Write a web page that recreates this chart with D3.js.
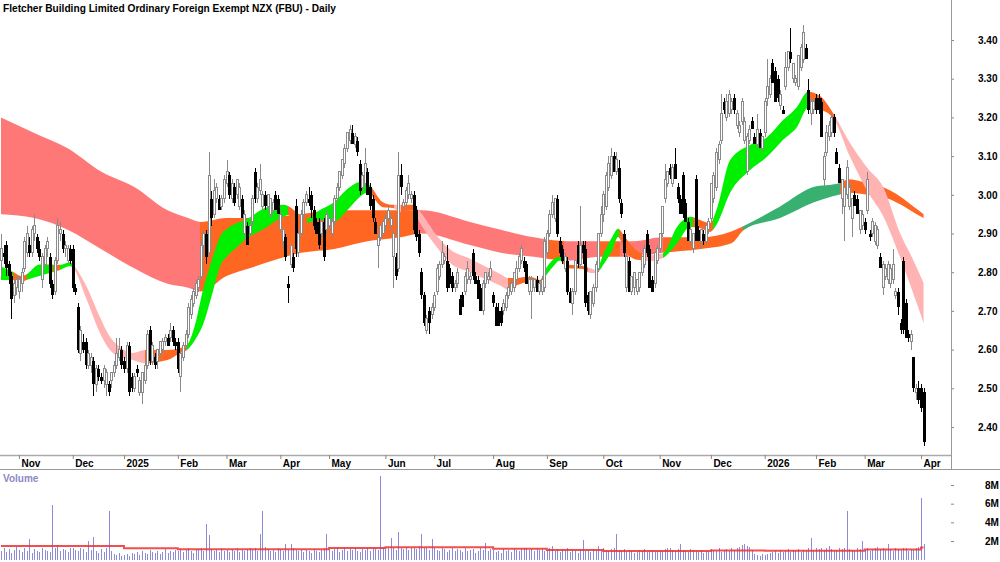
<!DOCTYPE html>
<html>
<head>
<meta charset="utf-8">
<script src="https://cdn.jsdelivr.net/npm/d3@7"></script>
<style>
  body { margin: 0; background: #fff; }
  svg { display: block; font-family: "Liberation Sans", Arial, sans-serif; font-weight: bold; }
</style>
</head>
<body>
<svg id="chart" width="1000" height="562"></svg>
<script>
// ---------------------------//
//       DATA                 //
// ---------------------------//

// NZX closed days in the window
var holidays = ["2024-10-28", "2024-12-25", "2024-12-26", "2025-01-01", "2025-01-02", "2025-02-06",
    "2025-04-18", "2025-04-21", "2025-04-25", "2025-06-02", "2025-06-20", "2025-10-27",
    "2025-12-25", "2025-12-26", "2026-01-01", "2026-01-02", "2026-02-06"];

// daily candles, cents : open, high, low, close
var candles = [
    // Oct 2024
    [283,290,279,286],[285,287,282,284],[287,288,279,281],[282,283,277,279],[279,280,268,273],[274,278,272,277],[276,279,274,278],
    // Nov
    [275,279,273,278],[277,281,275,280],[281,289,280,288],[285,292,284,290],[287,289,284,285],[285,292,284,291],[290,295,288,292],
    [289,290,285,286],[286,288,283,284],[278,285,276,284],[282,287,281,286],[286,289,284,288],[284,285,276,277],[277,278,273,274],
    [275,284,274,283],[283,294,282,292],[290,293,288,291],[290,291,285,286],[286,288,284,287],[283,287,282,286],[286,287,282,283],
    // Dec
    [286,287,275,276],[276,277,274,275],[271,272,259,260],[259,266,257,265],[262,264,259,260],[262,263,255,256],[256,260,255,259],
    [256,259,254,258],[257,258,248,251],[251,256,249,255],[255,256,252,253],[253,254,251,252],[252,256,250,255],[251,255,248,254],
    [251,252,248,249],[252,254,250,254],[254,257,253,256],[256,263,255,259],[258,263,257,260],[260,261,255,256],
    // Jan 2025
    [257,258,254,255],[255,262,254,261],[261,262,248,249],[253,254,249,250],[250,254,249,253],[255,256,253,254],[249,253,248,252],
    [249,254,246,254],[252,257,251,256],[256,265,255,264],[265,266,256,257],[257,262,256,261],[258,259,255,256],[257,260,255,260],
    [259,262,258,262],[260,263,259,262],[262,264,261,263],[263,264,261,261],[263,267,262,265],[265,266,261,262],[262,263,260,261],
    // Feb
    [262,263,254,255],[253,260,249,259],[258,262,257,261],[261,265,260,264],[264,272,263,271],[269,274,268,273],[272,276,271,275],
    [274,278,273,277],[276,279,275,278],[279,288,278,287],[287,291,284,290],[290,291,282,284],[285,311,284,305],[299,301,292,294],
    [295,304,294,301],[299,303,298,302],[299,300,296,296],[297,300,296,299],[299,305,298,304],
    // Mar
    [303,309,302,306],[305,306,299,300],[299,304,298,303],[302,303,297,298],[300,304,299,304],[297,303,296,302],[299,300,294,294],
    [290,296,288,295],[292,293,287,287],[290,293,289,292],[293,300,292,299],[306,307,298,299],[299,303,298,302],[301,308,300,304],
    [297,301,296,300],[300,301,296,297],[297,300,296,300],[295,299,294,299],[296,299,295,298],[300,301,296,296],[299,300,295,295],
    // Apr
    [291,296,290,295],[288,291,286,291],[289,290,283,284],[277,279,272,276],[282,287,281,287],[284,285,280,281],[297,299,284,286],
    [285,291,284,290],[290,296,289,295],[295,299,294,298],[298,301,297,300],[299,302,297,298],[300,301,294,296],[296,297,291,292],
    [293,294,290,290],[293,294,286,287],[290,294,289,293],[293,294,283,284],[291,296,290,295],
    // May
    [292,295,291,294],[290,294,289,293],[293,300,292,299],[299,303,298,302],[302,306,301,306],[305,309,304,309],[308,313,307,312],
    [312,316,311,316],[314,318,313,317],[316,318,313,313],[313,316,312,315],[314,315,310,311],[308,309,300,301],[302,306,301,305],
    [303,312,302,308],[306,307,300,300],[302,303,296,297],[299,300,293,294],[293,294,290,290],[287,290,281,289],[289,292,288,292],
    [290,293,289,293],
    // Jun
    [292,295,291,294],[294,297,293,296],[292,295,291,294],[284,291,276,290],[284,285,278,279],[281,311,280,305],[305,308,300,302],
    [297,299,296,298],[298,302,297,301],[300,305,299,303],[299,301,298,300],[300,301,290,291],[296,297,288,289],[290,291,284,285],
    [280,281,273,274],[274,275,266,267],[265,269,264,268],[270,271,264,267],[269,272,268,271],
    // Jul
    [271,275,270,274],[275,282,274,281],[279,283,278,282],[282,288,281,285],[283,285,282,284],[283,287,275,276],[281,282,276,277],
    [279,280,275,276],[276,278,275,277],[277,281,276,280],[273,274,269,269],[274,275,271,271],[275,280,274,279],[278,283,277,281],
    [278,280,277,279],[285,286,278,279],[279,280,277,277],[278,279,273,273],[276,277,270,270],[270,278,269,277],[277,280,276,280],
    [278,280,277,279],[279,283,278,281],
    // Aug
    [274,275,271,272],[271,272,266,266],[270,272,266,266],[270,271,266,267],[270,273,269,272],[271,275,270,274],[274,277,273,276],
    [275,278,274,277],[276,280,275,280],[278,283,277,281],[281,285,280,284],[283,287,282,286],[283,284,280,281],[282,283,277,277],
    [275,279,274,278],[275,279,268,278],[276,278,275,278],[278,279,275,275],[275,278,274,277],[275,279,274,278],[276,289,275,288],
    // Sep
    [285,291,284,290],[290,296,289,295],[295,300,294,298],[294,299,293,299],[299,300,289,290],[288,289,284,285],[286,287,282,283],
    [281,285,280,284],[283,284,274,275],[275,276,272,272],[272,276,269,275],[275,283,274,283],[287,288,281,282],[282,297,281,287],
    [287,288,282,285],[286,288,271,272],[274,275,269,270],[269,275,268,275],[272,277,271,276],[276,283,275,282],[281,290,280,290],
    [290,297,289,295],
    // Oct
    [295,301,293,300],[297,306,296,305],[302,310,301,308],[305,312,304,310],[310,311,306,306],[306,311,305,309],[307,309,298,299],
    [298,299,294,295],[290,291,284,285],[276,285,275,284],[283,284,275,275],[275,279,274,279],[276,280,274,280],[275,278,274,278],
    [276,280,275,280],[280,284,279,284],[282,287,281,286],[290,291,284,285],[286,287,276,276],[278,279,275,275],[277,285,276,285],
    [283,287,282,286],
    // Nov
    [286,290,285,290],[290,297,289,297],[299,308,298,304],[303,306,302,306],[307,308,304,305],[303,308,302,307],[308,312,304,304],
    [302,303,298,299],[299,300,295,295],[305,306,294,295],[298,299,293,293],[293,294,288,288],[288,292,287,291],[286,290,285,290],
    [304,305,288,288],[291,292,288,288],[288,291,286,291],[290,291,287,288],[288,292,287,292],[291,294,290,293],
    // Dec
    [294,303,293,303],[299,306,298,305],[302,312,301,311],[309,314,308,313],[314,326,313,321],[324,325,321,322],[320,326,319,324],
    [321,327,320,326],[322,325,321,324],[325,326,321,322],[318,322,317,321],[316,319,315,318],[319,325,318,324],[314,320,313,319],
    [306,316,305,315],[314,318,313,317],[319,320,317,317],[315,316,313,313],[313,321,312,317],[316,317,312,312],[312,315,311,315],
    // Jan 2026
    [316,325,315,324],[325,335,323,328],[326,331,325,330],[334,335,329,329],[332,333,324,324],[330,331,324,325],[323,327,322,326],
    [322,323,321,321],[328,337,327,333],[333,337,332,337],[337,343,334,335],[330,334,329,334],[329,331,328,330],[328,336,327,336],
    [333,339,332,338],[335,344,334,342],[338,339,335,335],[327,330,321,322],[321,325,318,324],[322,325,321,324],
    // Feb
    [325,326,321,322],[325,326,321,322],[324,325,315,315],[304,311,302,310],[311,318,310,316],[315,319,314,318],[316,321,315,320],
    [320,321,315,316],[311,312,308,308],[307,308,303,303],[299,304,295,304],[297,302,288,302],[300,309,299,307],[297,303,296,302],
    [294,299,289,299],[300,301,297,297],[299,300,295,295],[291,296,290,296],[292,296,291,295],
    // Mar
    [293,294,290,291],[296,306,295,304],[290,291,288,289],[290,294,289,293],[288,293,287,292],[287,292,286,291],[284,285,281,281],
    [276,283,274,282],[279,282,278,281],[278,283,277,282],[277,282,276,281],[278,286,277,282],[274,276,273,275],[275,276,269,271],
    [267,268,264,265],[283,284,264,265],[272,273,263,263],[264,265,262,263],[262,265,260,264],[258,258,249,250],[249,251,247,250],
    [250,252,246,247],
    // Apr
    [250,251,244,245],[249,250,235,236]
];

// daily volume, units of 100k shares
var volumes = [
    9,12,8,11,7,10,14,
    10,8,12,9,22,7,11,9,8,13,10,9,8,59,12,16,9,11,10,8,12,
    13,10,9,12,11,8,20,10,24,9,7,11,8,12,52,9,6,5,7,4,
    5,6,4,7,6,8,5,9,7,6,10,8,7,9,6,8,11,7,9,8,10,
    9,11,8,10,12,9,7,10,11,13,9,38,26,11,9,10,8,12,9,
    10,8,11,9,12,8,10,9,11,13,10,12,9,28,52,14,11,9,10,8,12,
    11,9,17,10,17,12,10,9,11,8,10,9,7,11,9,8,10,12,27,
    10,9,11,12,8,10,13,9,11,10,12,9,8,11,10,13,9,12,11,10,90,14,
    11,12,23,13,10,30,12,11,14,10,13,12,11,15,28,13,12,10,22,
    12,10,9,13,11,8,10,12,9,11,10,8,12,9,10,11,7,9,12,10,18,9,11,
    10,8,9,7,11,9,10,8,12,10,9,11,13,12,10,11,9,12,10,11,9,
    10,12,15,9,11,8,10,9,12,8,10,9,7,11,21,9,10,8,11,9,15,10,
    12,10,9,11,13,28,10,9,11,8,10,9,7,8,10,9,11,8,9,10,8,9,
    10,9,11,12,13,10,9,11,17,10,9,8,11,10,9,8,10,7,9,8,
    11,10,9,12,8,10,11,9,12,10,13,14,16,17,15,14,10,6,5,4,6,
    5,6,7,8,9,7,10,8,9,11,8,10,9,11,8,10,9,12,23,10,
    12,11,13,10,12,15,11,9,10,12,11,13,52,11,10,9,12,11,20,
    10,12,9,11,13,14,11,12,10,17,11,9,12,11,10,13,12,9,11,10,12,14,
    66,17
];

// volume average line (millions), one value per month from Oct 2024
var volAvg = [1.47, 1.47, 1.47, 1.22, 1.11, 1.11, 1.11, 1.25, 1.33, 1.33, 1.18, 1.04, 0.93, 0.93, 0.98, 0.95, 0.95, 1.08, 1.3];

// long-term ribbon : bar index, upper (cents), lower (cents)
var longBand = [
    [0,320,295],[13,316,294],[26,312,291],[39,306,286],[52,302,281],[65,296,277],[73,294,276],[78,293,275],
    [88,294,279],[97,294,281],[117,295,285],[130,296,286],[143,296,288],[156,296,289],[164,296,290],[183,293,287],
    [195,291,285],[208,289,284],[221,288,283],[234,288,284],[247,288,284],[258,289,285],[273,289,286],[285,290.5,287.5],
    [290,292,291],[304,297,294],[317,302,298],[327,303,300],[331,304,300.5],[338,303,300],[344,302,299.5],
    [351,299.5,297.5],[356,297,295.5],[360,295,294]
];
// trend state of the long ribbon from each bar index on
var longStates = [[0,"down"],[77.5,"mixed"],[162.5,"down"],[213,"mixed"],[219.5,"down"],[232.6,"mixed"],
    [241.5,"down"],[258.3,"mixed"],[289.5,"up"],[327.4,"mixed"]];

// short-term ribbon : bar index, upper (cents), lower (cents)
var shortBand = [
    [0,281.5,278],[5,280,278],[8,279,277.5],[10,279.5,278],[15,282,279],[19,282,279.8],[23,281.9,280.6],[27,282.6,281.6],
    [28,282,281.2],[33.5,276.2,272.8],[38.6,268.4,264.3],[42.5,263.3,259.9],[46.4,260.7,258.1],[51.5,259.1,257.3],
    [56,259.9,256.5],[65,259.9,257.3],[70,260.4,259.1],[72.6,261.2,259.9],[75.7,266.4,262.5],[78.8,275.4,266.4],
    [82.3,283.2,274.1],[85.4,289.1,281.4],[88.6,291.4,284.4],[92.1,292.7,286.5],[95.2,293.5,288.3],[103.8,296.8,291.7],
    [110,297.4,294.3],[112,297.1,294.8],[116.7,294.8,292.2],[119.4,294,292.7],[124.5,296.1,293.5],[129.5,297.9,293],
    [136.2,302,296.8],[140,303.3,299.4],[142.8,303,300.5],[149,298.1,296.8],[153,297.4,296.6],[155.7,297.4,295.6],
    [160.8,297.4,296.1],[163.5,295.6,292.7],[170,289.5,286.5],[175,286,282.5],[183,283.5,280],[195,279.5,276.5],
    [198,278.5,275.5],[201.5,278.5,276.7],[205.3,278.8,277.5],[207.6,278.6,277.7],[210.3,278,277.2],[212.3,280.6,278.8],
    [215.4,283.2,281.4],[218.1,284,283],[221,282,281],[227,281.6,280.8],[230,281,279.8],[232,280.6,279.8],
    [235.7,285.7,282.6],[238.5,289.1,285.7],[240.8,291.2,289.1],[243.5,289,285.5],[248.2,285.5,283.2],[253.2,284.4,282.9],
    [258.3,284.9,283.7],[263.8,291.7,287.5],[268.9,294.3,291.7],[272.8,293.5,291.4],[276.7,292.7,290.4],[279.4,296.5,292.5],
    [284.5,309,300.5],[292.3,312.9,306.4],[298.9,314.9,309.8],[305.2,319.3,314.2],[310.6,322.7,317.5],[314.9,326.6,322.4],
    [319.6,325.5,322],[324.7,321.1,319.8],[331.3,313.4,309.8],[338,307,301],[344.2,302,294.5],[350.8,290.1,283.9],
    [355.9,283.2,274.6],[360,277.2,266.9]
];
var shortStates = [[0,"up"],[4.7,"mixed"],[10,"up"],[20.3,"mixed"],[23,"up"],[28,"down"],[56,"mixed"],[72.6,"up"],
    [112,"mixed"],[119.4,"up"],[144,"mixed"],[153.5,"down"],[156,"mixed"],[161,"down"],[198,"mixed"],[212,"up"],
    [219,"mixed"],[229,"down"],[232,"up"],[241,"mixed"],[250,"down"],[258.3,"up"],[270,"mixed"],[278,"up"],
    [315,"mixed"],[326,"down"]];

var priceTicks = [2.40, 2.50, 2.60, 2.70, 2.80, 2.90, 3.00, 3.10, 3.20, 3.30, 3.40];
var volTicks = [2, 4, 6, 8];

// ---------------------------//
//       SETUP                //
// ---------------------------//
var plotRight = 951;
var svg = d3.select("#chart");
var defs = svg.append("defs");

var fmtDay = d3.utcFormat("%Y-%m-%d");
var dates = d3.utcDay.range(new Date(Date.UTC(2024, 9, 22)), new Date(Date.UTC(2026, 3, 3)))
    .filter(function(d) { return d.getUTCDay() > 0 && d.getUTCDay() < 6 && holidays.indexOf(fmtDay(d)) < 0; });

var x = d3.scaleLinear().domain([0, candles.length - 1]).range([1, 923.6]);
var y = d3.scaleLinear().domain([2.40, 3.40]).range([427, 40]);
var yv = d3.scaleLinear().domain([0, 8]).range([559.7, 485]);

var longPalette = { down: "#ff7878", mixed: "#ff6622", up: "#38b070" };
var shortPalette = { down: "#ffb3b3", mixed: "#ff6622", up: "#00f000" };

// ---------------------------//
//       RIBBONS              //
// ---------------------------//
var area = d3.area()
    .curve(d3.curveMonotoneX)
    .x(function(d) { return x(d[0]); })
    .y0(function(d) { return y(d[2] / 100); })
    .y1(function(d) { return y(d[1] / 100); });

function drawRibbon(id, band, states, palette) {
    var grad = defs.append("linearGradient")
        .attr("id", id)
        .attr("gradientUnits", "userSpaceOnUse")
        .attr("x1", 0).attr("x2", plotRight).attr("y1", 0).attr("y2", 0);
    states.forEach(function(s, k) {
        var a = Math.max(0, x(s[0]) / plotRight);
        var b = k + 1 < states.length ? x(states[k + 1][0]) / plotRight : 1;
        grad.append("stop").attr("offset", a).attr("stop-color", palette[s[1]]);
        grad.append("stop").attr("offset", b).attr("stop-color", palette[s[1]]);
    });
    svg.append("path")
        .datum(band)
        .attr("d", area)
        .attr("fill", "url(#" + id + ")");
}
drawRibbon("longGrad", longBand, longStates, longPalette);
drawRibbon("shortGrad", shortBand, shortStates, shortPalette);

// ---------------------------//
//       CANDLES              //
// ---------------------------//
function cx(i) { return Math.round(x(i)) + 0.5; }
function isUp(d) { return d[3] >= d[0]; }

var gc = svg.append("g").attr("shape-rendering", "crispEdges");
gc.selectAll("line.wick")
    .data(candles)
    .join("line")
    .attr("class", "wick")
    .attr("x1", function(d, i) { return cx(i); })
    .attr("x2", function(d, i) { return cx(i); })
    .attr("y1", function(d) { return y(Math.max(d[1], d[0], d[3]) / 100); })
    .attr("y2", function(d) { return y(Math.min(d[2], d[0], d[3]) / 100); })
    .attr("stroke", function(d) { return isUp(d) ? "#8a8a8a" : "#000"; });

gc.selectAll("rect.body")
    .data(candles)
    .join("rect")
    .attr("class", "body")
    .attr("x", function(d, i) { return isUp(d) ? cx(i) - 1 : cx(i) - 1.5; })
    .attr("width", function(d) { return isUp(d) ? 2 : 3; })
    .attr("y", function(d) { return y(Math.max(d[0], d[3]) / 100); })
    .attr("height", function(d) { return Math.max(1, Math.abs(y(d[0] / 100) - y(d[3] / 100))); })
    .attr("fill", function(d) { return isUp(d) ? "#fff" : "#000"; })
    .attr("stroke", function(d) { return isUp(d) ? "#8a8a8a" : "none"; });

// ---------------------------//
//       AXES / FRAME         //
// ---------------------------//
svg.append("text")
    .attr("x", 3).attr("y", 12)
    .attr("font-size", 11)
    .attr("textLength", 333)
    .attr("lengthAdjust", "spacingAndGlyphs")
    .text("Fletcher Building Limited Ordinary Foreign Exempt NZX (FBU) - Daily");

// price axis
var pAxis = svg.append("g")
    .attr("transform", "translate(" + plotRight + ",0)")
    .call(d3.axisRight(y).tickValues(priceTicks).tickFormat(d3.format(".2f")).tickSize(3).tickPadding(24));
pAxis.select(".domain").remove();
pAxis.selectAll("line").attr("stroke", "#888");
pAxis.selectAll("text").attr("font-size", 10).attr("font-weight", "bold").attr("font-family", "Liberation Sans, Arial, sans-serif").attr("fill", "#000");

// frame lines
svg.append("line").attr("x1", plotRight + 0.5).attr("x2", plotRight + 0.5).attr("y1", 0).attr("y2", 469)
    .attr("stroke", "#999");
svg.append("line").attr("x1", 0).attr("x2", plotRight).attr("y1", 455.5).attr("y2", 455.5)
    .attr("stroke", "#aaa").attr("stroke-width", 1.5);
svg.append("line").attr("x1", 0).attr("x2", 1000).attr("y1", 469.5).attr("y2", 469.5)
    .attr("stroke", "#999");

// month axis
var monthIdx = [];
dates.forEach(function(d, i) {
    if (i > 0 && d.getUTCMonth() !== dates[i - 1].getUTCMonth()) monthIdx.push(i);
});
var mAxis = svg.append("g")
    .attr("transform", "translate(0,455)")
    .call(d3.axisBottom(x).tickValues(monthIdx).tickSize(4)
        .tickFormat(function(i) {
            var d = dates[i];
            return d.getUTCMonth() === 0 ? d.getUTCFullYear() : d3.utcFormat("%b")(d);
        }));
mAxis.select(".domain").remove();
mAxis.selectAll("line").attr("stroke", "#888");
mAxis.selectAll("text")
    .attr("text-anchor", "start").attr("x", 2).attr("y", 12).attr("dy", 0)
    .attr("font-size", 10).attr("font-weight", "bold").attr("font-family", "Liberation Sans, Arial, sans-serif").attr("fill", "#000");

// ---------------------------//
//       VOLUME               //
// ---------------------------//
svg.append("text")
    .attr("x", 3).attr("y", 482)
    .attr("font-size", 10)
    .attr("fill", "#8a8ac8")
    .text("Volume");

svg.append("g").attr("shape-rendering", "crispEdges")
    .selectAll("line")
    .data(volumes)
    .join("line")
    .attr("x1", function(d, i) { return cx(i); })
    .attr("x2", function(d, i) { return cx(i); })
    .attr("y1", yv(0))
    .attr("y2", function(d) { return yv(d / 10); })
    .attr("stroke", "#8c8cd6");

var monthStarts = [0].concat(monthIdx);
var avgPts = volAvg.map(function(v, k) { return [monthStarts[k], v]; });
avgPts.push([candles.length - 1, volAvg[volAvg.length - 1]]);
svg.append("path")
    .datum(avgPts)
    .attr("d", d3.line().curve(d3.curveStepAfter)
        .x(function(d) { return x(d[0]); })
        .y(function(d) { return yv(d[1]); }))
    .attr("fill", "none")
    .attr("stroke", "#f03030")
    .attr("stroke-width", 2)
    .attr("stroke-opacity", 0.85);

var vAxis = svg.append("g")
    .attr("transform", "translate(" + plotRight + ",0)")
    .call(d3.axisRight(yv).tickValues(volTicks).tickFormat(function(d) { return d + "M"; }).tickSize(3).tickPadding(31));
vAxis.select(".domain").remove();
vAxis.selectAll("line").attr("stroke", "#888");
vAxis.selectAll("text").attr("font-size", 10).attr("font-weight", "bold").attr("font-family", "Liberation Sans, Arial, sans-serif").attr("fill", "#000");
</script>
</body>
</html>
